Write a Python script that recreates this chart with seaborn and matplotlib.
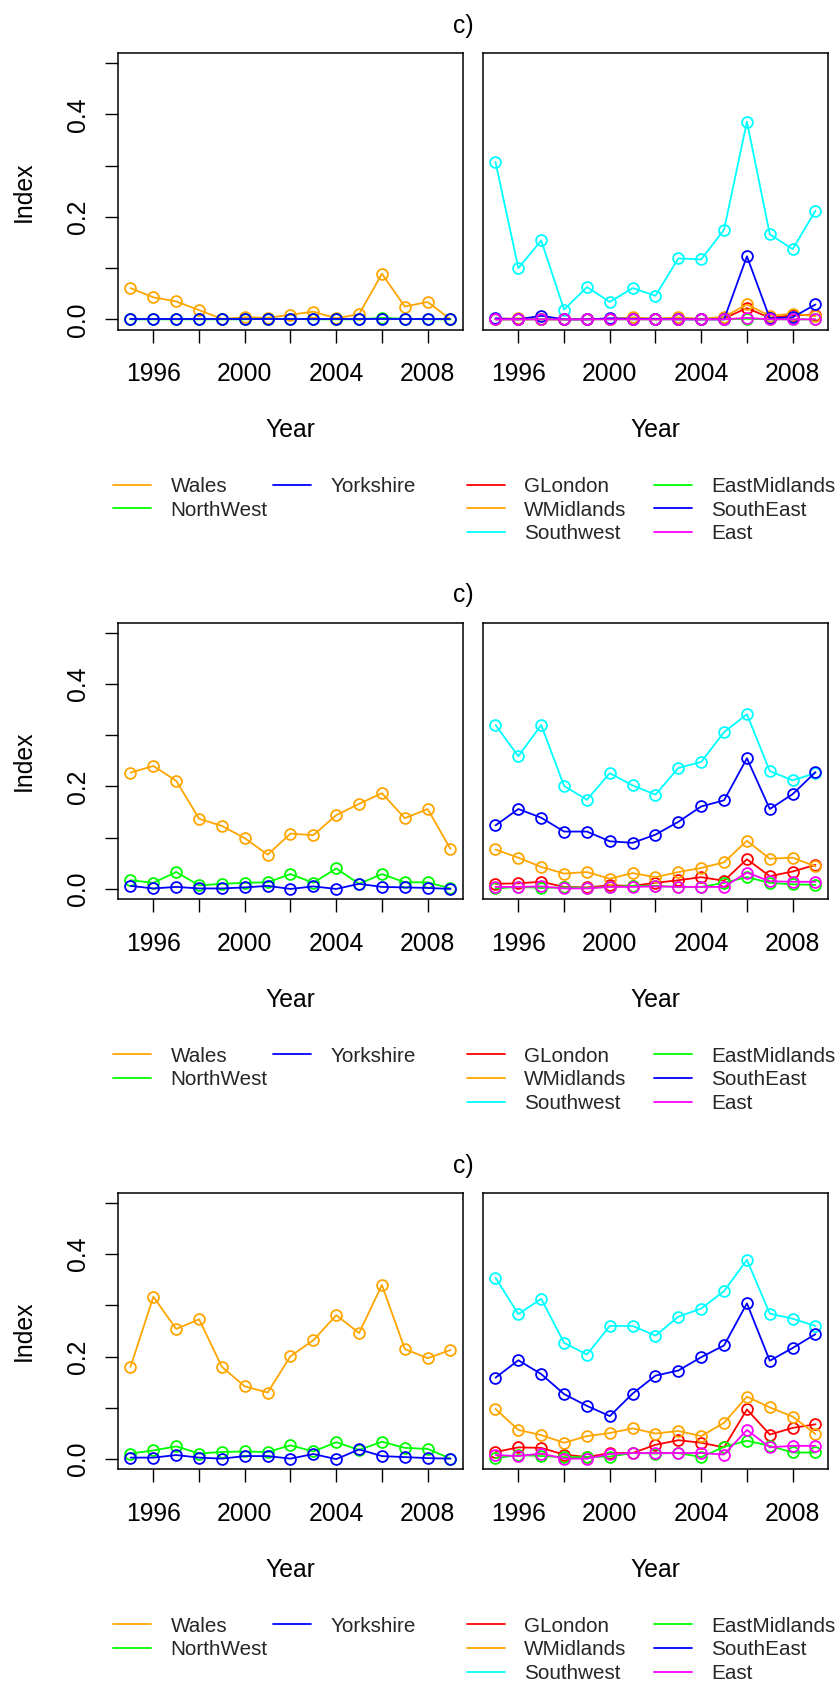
import numpy as np
import pandas as pd
import matplotlib
matplotlib.use("Agg")
import matplotlib.pyplot as plt
from matplotlib.lines import Line2D
import seaborn as sns

# ---------------- data ----------------
years = [1995, 1996, 1997, 1998, 1999, 2000, 2001, 2002, 2003, 2004, 2005, 2006, 2007, 2008, 2009]

left_regions = ["Wales", "NorthWest", "Yorkshire"]
right_regions = ["GLondon", "WMidlands", "Southwest", "EastMidlands", "SouthEast", "East"]
region_colors = {"Wales": "#FFA500", "NorthWest": "#00FF00", "Yorkshire": "#0000FF",
                 "GLondon": "#FF0000", "WMidlands": "#FFA500", "Southwest": "#00FFFF",
                 "EastMidlands": "#00FF00", "SouthEast": "#0000FF", "East": "#FF00FF"}

x_ticks = [1996, 1998, 2000, 2002, 2004, 2006, 2008]
x_ticklabels = ["1996", "", "2000", "", "2004", "", "2008"]
y_ticks = [0.0, 0.1, 0.2, 0.3, 0.4, 0.5]
y_ticklabels = ["0.0", "", "0.2", "", "0.4", ""]
panel_title = "c)"

# row 1
wales_a = [0.061, 0.043, 0.035, 0.018, 0.001, 0.004, 0.003, 0.009, 0.015, 0.002, 0.010, 0.089, 0.025, 0.034, 0.000]
northwest_a = [0.000, 0.000, 0.000, 0.000, 0.000, 0.000, 0.001, 0.001, 0.000, 0.000, 0.000, 0.003, 0.001, 0.000, 0.000]
yorkshire_a = [0.000, 0.000, 0.000, 0.000, 0.000, 0.000, 0.000, 0.000, 0.000, 0.000, 0.000, 0.000, 0.000, 0.000, 0.000]
glondon_a = [0.000, 0.000, 0.000, 0.000, 0.000, 0.001, 0.001, 0.000, 0.001, 0.000, 0.002, 0.022, 0.003, 0.008, 0.009]
wmidlands_a = [0.001, 0.002, 0.001, 0.000, 0.001, 0.001, 0.004, 0.001, 0.004, 0.001, 0.005, 0.029, 0.007, 0.011, 0.006]
southwest_a = [0.307, 0.100, 0.154, 0.019, 0.063, 0.034, 0.061, 0.046, 0.119, 0.117, 0.175, 0.386, 0.166, 0.137, 0.212]
eastmidlands_a = [0.000, 0.000, 0.000, 0.000, 0.000, 0.000, 0.000, 0.000, 0.000, 0.000, 0.000, 0.001, 0.000, 0.000, 0.000]
southeast_a = [0.002, 0.000, 0.007, 0.000, 0.000, 0.002, 0.001, 0.001, 0.000, 0.000, 0.000, 0.123, 0.002, 0.004, 0.029]
east_a = [0.000, 0.000, 0.000, 0.000, 0.000, 0.000, 0.000, 0.000, 0.000, 0.000, 0.000, 0.003, 0.000, 0.000, 0.000]

# row 2
wales_b = [0.227, 0.240, 0.211, 0.137, 0.123, 0.099, 0.067, 0.108, 0.105, 0.144, 0.166, 0.187, 0.138, 0.156, 0.078]
northwest_b = [0.017, 0.012, 0.033, 0.007, 0.010, 0.012, 0.013, 0.029, 0.012, 0.040, 0.010, 0.029, 0.013, 0.013, 0.001]
yorkshire_b = [0.006, 0.001, 0.004, 0.001, 0.001, 0.003, 0.006, 0.000, 0.005, 0.000, 0.010, 0.004, 0.003, 0.002, 0.000]
glondon_b = [0.010, 0.011, 0.014, 0.004, 0.003, 0.007, 0.006, 0.012, 0.017, 0.023, 0.016, 0.058, 0.025, 0.034, 0.047]
wmidlands_b = [0.077, 0.061, 0.043, 0.030, 0.033, 0.020, 0.031, 0.023, 0.033, 0.041, 0.052, 0.094, 0.059, 0.061, 0.044]
southwest_b = [0.320, 0.259, 0.320, 0.201, 0.174, 0.226, 0.202, 0.184, 0.236, 0.248, 0.306, 0.341, 0.230, 0.212, 0.226]
eastmidlands_b = [0.001, 0.004, 0.002, 0.003, 0.002, 0.004, 0.006, 0.006, 0.004, 0.004, 0.012, 0.023, 0.012, 0.009, 0.008]
southeast_b = [0.124, 0.156, 0.139, 0.112, 0.112, 0.093, 0.090, 0.106, 0.131, 0.161, 0.173, 0.255, 0.156, 0.185, 0.228]
east_b = [0.004, 0.004, 0.005, 0.001, 0.001, 0.004, 0.004, 0.005, 0.004, 0.004, 0.004, 0.032, 0.015, 0.014, 0.014]

# row 3
wales_c = [0.180, 0.317, 0.254, 0.273, 0.180, 0.142, 0.130, 0.201, 0.232, 0.281, 0.246, 0.340, 0.215, 0.197, 0.213]
northwest_c = [0.011, 0.017, 0.025, 0.011, 0.014, 0.015, 0.014, 0.027, 0.015, 0.033, 0.018, 0.034, 0.022, 0.020, 0.001]
yorkshire_c = [0.003, 0.003, 0.008, 0.003, 0.001, 0.006, 0.006, 0.001, 0.010, 0.000, 0.019, 0.006, 0.004, 0.002, 0.001]
glondon_c = [0.014, 0.023, 0.022, 0.009, 0.004, 0.012, 0.012, 0.028, 0.037, 0.032, 0.023, 0.097, 0.048, 0.061, 0.068]
wmidlands_c = [0.098, 0.057, 0.047, 0.032, 0.045, 0.051, 0.060, 0.050, 0.055, 0.045, 0.071, 0.122, 0.101, 0.083, 0.049]
southwest_c = [0.354, 0.283, 0.313, 0.227, 0.204, 0.260, 0.260, 0.241, 0.278, 0.294, 0.328, 0.389, 0.284, 0.274, 0.260]
eastmidlands_c = [0.002, 0.008, 0.006, 0.004, 0.004, 0.005, 0.012, 0.011, 0.012, 0.004, 0.024, 0.036, 0.026, 0.013, 0.013]
southeast_c = [0.159, 0.193, 0.166, 0.127, 0.104, 0.084, 0.128, 0.163, 0.173, 0.199, 0.222, 0.304, 0.192, 0.217, 0.244]
east_c = [0.008, 0.006, 0.011, 0.001, 0.001, 0.010, 0.012, 0.012, 0.012, 0.012, 0.009, 0.057, 0.023, 0.026, 0.026]

rows = [
    ({"Wales": wales_a, "NorthWest": northwest_a, "Yorkshire": yorkshire_a},
     {"GLondon": glondon_a, "WMidlands": wmidlands_a, "Southwest": southwest_a,
      "EastMidlands": eastmidlands_a, "SouthEast": southeast_a, "East": east_a}),
    ({"Wales": wales_b, "NorthWest": northwest_b, "Yorkshire": yorkshire_b},
     {"GLondon": glondon_b, "WMidlands": wmidlands_b, "Southwest": southwest_b,
      "EastMidlands": eastmidlands_b, "SouthEast": southeast_b, "East": east_b}),
    ({"Wales": wales_c, "NorthWest": northwest_c, "Yorkshire": yorkshire_c},
     {"GLondon": glondon_c, "WMidlands": wmidlands_c, "Southwest": southwest_c,
      "EastMidlands": eastmidlands_c, "SouthEast": southeast_c, "East": east_c}),
]

# ---------------- style ----------------
sns.set_theme(style="ticks")
plt.rcParams['font.family'] = ['Liberation Sans', 'DejaVu Sans']
plt.rcParams['axes.edgecolor'] = 'black'
plt.rcParams['axes.linewidth'] = 1.1

W, H = 837, 1684
fig = plt.figure(figsize=(W / 100, H / 100), dpi=100)

TICK_FS = 17.8
LEG_FS = 14.9
LW = 1.3
MS = 7.8
MEW = 1.3

ax_w, ax_h = 345.6, 276.7
left_x, right_x = 117.7, 482.7
row_tops = [52.9, 622.5, 1192.7]


def add_ax(x0, top):
    return fig.add_axes([x0 / W, 1 - (top + ax_h) / H, ax_w / W, ax_h / H])


def draw_panel(ax, series, order):
    for name in order:
        df = pd.DataFrame({"Year": years, "Index": series[name]})
        sns.lineplot(data=df, x="Year", y="Index", color=region_colors[name], ax=ax,
                     marker="o", markersize=MS, markerfacecolor="none",
                     markeredgecolor=region_colors[name], markeredgewidth=MEW,
                     linewidth=LW, legend=False, estimator=None)
    ax.set_xlim(1994.44, 2009.56)
    ax.set_ylim(-0.02, 0.52)
    ax.set_xticks(x_ticks)
    ax.set_xticklabels(x_ticklabels)
    ax.tick_params(axis="x", direction="out", length=9.6, width=1.0, pad=14.0,
                   labelsize=TICK_FS, colors="black", bottom=True)
    ax.set_xlabel("Year", fontsize=TICK_FS, color="black")
    ax.xaxis.set_label_coords(0.5, -(88.4 / ax_h))
    for s in ax.spines.values():
        s.set_visible(True)
        s.set_color("black")
        s.set_linewidth(1.1)


def add_legend(ax, order, x_px, top_px, colspacing):
    handles = [Line2D([], [], color=region_colors[n], lw=LW) for n in order]
    ax.legend(handles, order, ncol=2, loc="upper left",
              bbox_to_anchor=(x_px / W, 1 - top_px / H), bbox_transform=fig.transFigure,
              frameon=False, fontsize=LEG_FS, handlelength=1.85, handletextpad=0.93,
              columnspacing=colspacing, labelspacing=0.23, borderpad=0, borderaxespad=0)


for (lser, rser), top in zip(rows, row_tops):
    axl = add_ax(left_x, top)
    axr = add_ax(right_x, top)
    draw_panel(axl, lser, left_regions)
    draw_panel(axr, rser, right_regions)

    axl.set_yticks(y_ticks)
    axl.set_yticklabels(y_ticklabels)
    axl.tick_params(axis="y", direction="out", length=9.6, width=1.0, pad=10.3,
                    labelsize=TICK_FS, colors="black", left=True)
    for t in axl.get_yticklabels():
        t.set_rotation(90)
        t.set_va("center")
    axl.set_ylabel("Index", fontsize=TICK_FS, color="black")
    axl.yaxis.set_label_coords((35.5 - left_x) / ax_w, 0.5)

    axr.set_yticks([])
    axr.set_ylabel("")
    axr.tick_params(axis="y", left=False, labelleft=False)

    fig.text(463 / W, 1 - (top - 27) / H, panel_title, ha="center", va="center",
             fontsize=TICK_FS, color="black")

    add_legend(axl, left_regions, 113, top + 430 - 6, 0.26)
    add_legend(axr, right_regions, 466.7, top + 430 - 6, 1.3)

fig.savefig("out.png", dpi=100)
